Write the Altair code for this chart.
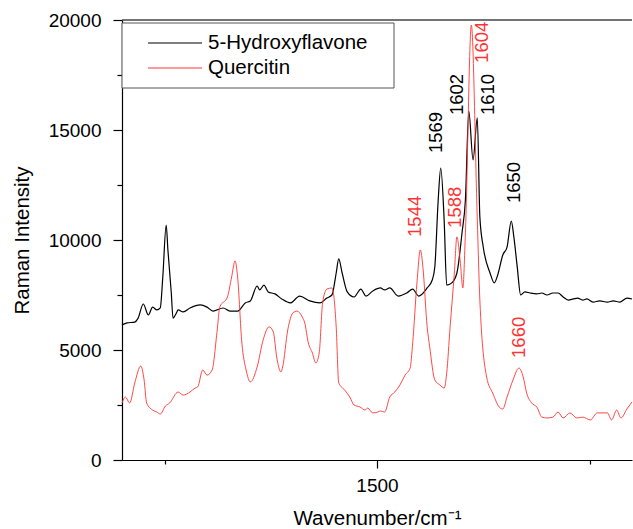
import altair as alt
import pandas as pd

# 5-Hydroxyflavone (black)
wn_hf = [1200, 1206, 1215, 1219, 1225, 1231, 1236, 1241, 1245, 1248, 1252, 1254, 1258, 1260, 1264, 1266,
         1272, 1280, 1292, 1300, 1307, 1319, 1327, 1336, 1345, 1351, 1359, 1362, 1367, 1372, 1380, 1388,
         1398, 1409, 1421, 1433, 1441, 1447, 1452, 1455, 1459, 1465, 1473, 1481, 1487, 1495, 1504, 1509,
         1515, 1525, 1535, 1542, 1549, 1559, 1565, 1568, 1572, 1575, 1579, 1582, 1588, 1594, 1600, 1604,
         1608, 1613, 1618, 1621, 1625, 1633, 1638, 1642, 1648, 1653, 1658, 1661, 1665, 1669, 1674, 1680,
         1688, 1694, 1700, 1707, 1713, 1719, 1725, 1731, 1736, 1742, 1747, 1754, 1762, 1771, 1778, 1786,
         1794, 1800]
int_hf = [6140, 6230, 6270, 6450, 7090, 6590, 6950, 6820, 6910, 8320, 10680, 9550, 7590, 6450, 6680, 6820,
          6730, 6910, 7050, 6950, 6770, 6910, 6770, 6770, 7140, 7230, 7910, 7730, 7950, 7640, 7550, 7320,
          7140, 7450, 7230, 7140, 7360, 7500, 8500, 9140, 8500, 7640, 7410, 7770, 7450, 7680, 7820, 7730,
          7820, 7450, 7590, 7770, 7450, 7820, 8180, 8770, 11820, 13270, 10910, 7950, 8050, 8500, 10320, 11820,
          15860, 13640, 15550, 11050, 9680, 8500, 8050, 8410, 9320, 9680, 10860, 10140, 8770, 7500, 7640, 7590,
          7550, 7590, 7500, 7590, 7590, 7410, 7270, 7320, 7360, 7270, 7320, 7180, 7230, 7180, 7230, 7180,
          7360, 7320]

# Quercitin (red)
wn_q = [1200, 1204, 1209, 1215, 1222, 1226, 1229, 1236, 1241, 1245, 1251, 1256, 1266, 1272, 1280, 1286,
        1289, 1295, 1300, 1306, 1312, 1315, 1324, 1329, 1333, 1336, 1341, 1346, 1351, 1359, 1366, 1373,
        1378, 1382, 1387, 1389, 1395, 1401, 1406, 1412, 1415, 1419, 1424, 1428, 1432, 1436, 1441, 1447,
        1452, 1455, 1462, 1468, 1473, 1480, 1486, 1489, 1495, 1501, 1504, 1509, 1515, 1521, 1527, 1533,
        1539, 1542, 1547, 1551, 1554, 1559, 1562, 1568, 1574, 1579, 1582, 1586, 1591, 1594, 1598, 1601,
        1604, 1611, 1618, 1621, 1629, 1636, 1645, 1648, 1653, 1660, 1667, 1672, 1676, 1682, 1688, 1694,
        1700, 1707, 1713, 1719, 1727, 1735, 1742, 1751, 1759, 1771, 1776, 1782, 1787, 1794, 1800]
int_q = [2590, 2860, 2590, 3500, 4270, 3640, 2590, 2270, 2180, 2090, 2450, 2590, 3090, 2950, 3090, 3270,
         3320, 4090, 3860, 4090, 5910, 6950, 7410, 8320, 9050, 8320, 5320, 4090, 3550, 4230, 5450, 6050,
         5820, 4680, 4000, 4230, 5910, 6680, 6770, 6500, 6230, 5360, 4860, 4410, 4860, 7140, 7770, 7820,
         6050, 3500, 3180, 2860, 2500, 2410, 2270, 2360, 2140, 2180, 2230, 2180, 2860, 3090, 3410, 3860,
         4180, 5320, 8050, 9550, 8770, 6050, 5140, 3640, 3410, 3270, 3950, 6050, 8500, 10140, 9000, 7820,
         10320, 19770, 10910, 7270, 3770, 3050, 2360, 2320, 2860, 3640, 4180, 3770, 3050, 2590, 2410, 1950,
         1910, 1950, 2180, 1910, 2140, 1910, 1950, 1820, 2140, 2140, 1820, 2270, 1910, 2320, 2640]

series_names = ["5-Hydroxyflavone", "Quercitin"]
series_colors = ["#000000", "#ff3333"]

# Peak annotations
ann_text = ["1569", "1602", "1610", "1650", "1604", "1544", "1588", "1660"]
ann_x = [1569, 1594, 1631, 1661, 1624, 1545, 1592, 1667]
ann_y = [13950, 15680, 15680, 11680, 18050, 10140, 10550, 4640]
ann_color = ["#000000"] * 4 + ["#ff3333"] * 4

y_ticks = [0, 2500, 5000, 7500, 10000, 12500, 15000, 17500, 20000]
x_ticks = [1250, 1500, 1750]

df = pd.concat([
    pd.DataFrame({"wn": wn_hf, "I": int_hf, "series": series_names[0]}),
    pd.DataFrame({"wn": wn_q, "I": int_q, "series": series_names[1]}),
])
ann = pd.DataFrame({"label": ann_text, "wn": ann_x, "I": ann_y, "c": ann_color})

FONT = "Liberation Sans"
W, H = 510, 440

xscale = alt.Scale(domain=[1200, 1800], nice=False, zero=False)
yscale = alt.Scale(domain=[0, 20000], nice=False)

xaxis = alt.Axis(
    values=x_ticks, title="Wavenumber/cm\u207b\u00b9",
    labelExpr="datum.value === 1500 ? datum.label : ''",
    tickSize={"condition": {"test": "datum.value === 1500", "value": 8}, "value": 4},
    labelPadding=8, titlePadding=13, grid=False, format="d",
)
yaxis = alt.Axis(
    values=y_ticks, title="Raman Intensity",
    labelExpr="datum.value % 5000 === 0 ? datum.label : ''",
    tickSize={"condition": {"test": "datum.value % 5000 === 0", "value": 9}, "value": 5},
    labelPadding=12, titlePadding=16, grid=False, format="d",
)

lines = alt.Chart(df).mark_line(interpolate="monotone").encode(
    x=alt.X("wn:Q", scale=xscale, axis=xaxis),
    y=alt.Y("I:Q", scale=yscale, axis=yaxis),
    color=alt.Color("series:N", scale=alt.Scale(domain=series_names, range=series_colors), legend=None),
    strokeWidth=alt.StrokeWidth("series:N", scale=alt.Scale(domain=series_names, range=[1.2, 0.9]),
                                legend=None),
    order=alt.Order("wn:Q"),
)

texts = alt.Chart(ann).mark_text(angle=270, align="left", baseline="middle",
                                 font=FONT, fontSize=18.5).encode(
    x="wn:Q", y="I:Q", text="label:N", color=alt.Color("c:N", scale=None),
)

one = pd.DataFrame({"a": [0]})
top = alt.Chart(one).mark_rule(color="#444444", strokeWidth=1.5).encode(
    x=alt.value(0), x2=alt.value(W), y=alt.value(0)
)

# Legend drawn as a boxed key
legend_layers = [
    alt.Chart(one).mark_rect(fill="white", stroke="#555555", strokeWidth=1).encode(
        x=alt.value(0), x2=alt.value(272), y=alt.value(3), y2=alt.value(68))
]
for i, (name, col) in enumerate(zip(series_names, series_colors)):
    ly = 23 + 25 * i
    legend_layers.append(
        alt.Chart(one).mark_rule(color=col, strokeWidth=1.1).encode(
            x=alt.value(26), x2=alt.value(80), y=alt.value(ly)))
    legend_layers.append(
        alt.Chart(one).mark_text(align="left", baseline="middle", font=FONT, fontSize=20.5,
                                 color="black", text=name).encode(
            x=alt.value(86), y=alt.value(ly)))

chart = alt.layer(lines, texts, top, *legend_layers).properties(
    width=W, height=H,
    autosize=alt.AutoSizeParams(type="none"),
    padding={"left": 122, "top": 20, "right": 1, "bottom": 69},
).configure_view(stroke=None).configure_axis(
    labelFont=FONT, titleFont=FONT, labelFontSize=19, titleFontSize=20.5,
    titleFontWeight="normal", labelColor="black", titleColor="black",
    domainColor="black", tickColor="black", domainWidth=1.2, tickWidth=1.2,
)

chart.save("out.html", embed_options={"renderer": "svg", "actions": False})
